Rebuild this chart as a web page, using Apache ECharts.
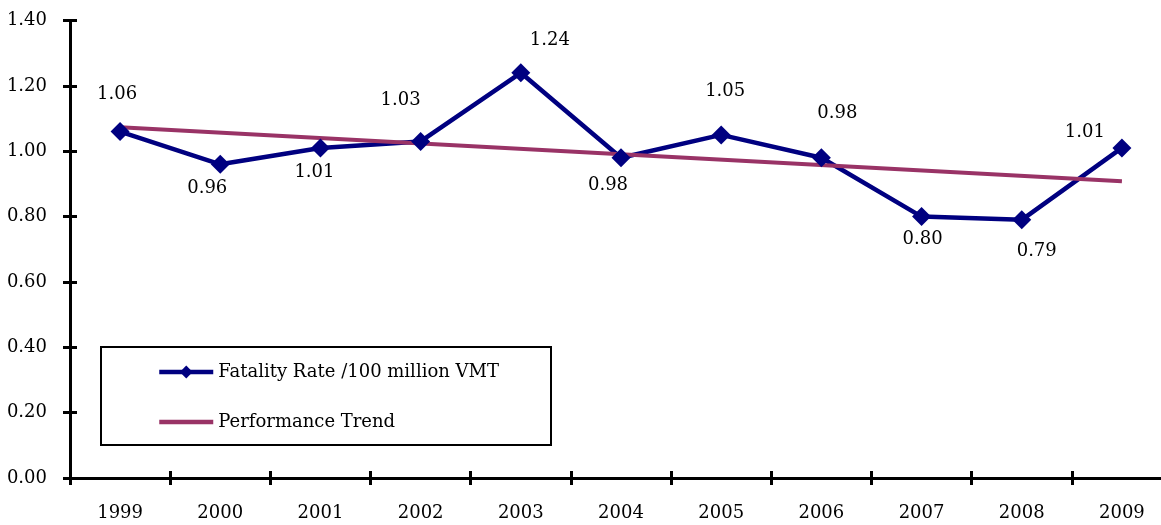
<!DOCTYPE html>
<html>
<head>
<meta charset="utf-8">
<script src="https://cdn.jsdelivr.net/npm/echarts@6/dist/echarts.min.js"></script>
<style>
  html, body { margin: 0; padding: 0; background: #fff; }
  #main { width: 1161px; height: 525px; }
</style>
</head>
<body>
<div id="main"></div>
<script>
const years = ['1999', '2000', '2001', '2002', '2003', '2004', '2005', '2006', '2007', '2008', '2009'];
const fatalityRate = [1.06, 0.96, 1.01, 1.03, 1.24, 0.98, 1.05, 0.98, 0.80, 0.79, 1.01];
// trend line only has its two ends, the rest is left open
const performanceTrend = [1.073, null, null, null, null, null, null, null, null, null, 0.908];

// where each value label sits, relative to its point
const labelOffsets = [[-3, -37], [-13, 24], [-6, 24], [-20, -41], [29, -32], [-13, 28],
  [4, -44], [16, -44], [1, 23], [15, 31], [-37, -16]];

const FONT = 'DejaVu Serif';
const chart = echarts.init(document.getElementById('main'));

const xBase = {
  type: 'category',
  data: years,
  position: 'bottom',
  boundaryGap: true,
  axisLine: { show: true, lineStyle: { color: '#000', width: 3 } },
  axisTick: { show: true, alignWithLabel: false, length: 7, lineStyle: { color: '#000', width: 3 } },
  splitLine: { show: false }
};
const yBase = {
  type: 'value',
  min: 0,
  max: 1.4,
  interval: 0.2,
  position: 'left',
  axisLine: { show: true, lineStyle: { color: '#000', width: 3 } },
  axisTick: { show: true, length: 7, lineStyle: { color: '#000', width: 3 } },
  splitLine: { show: false }
};

var option = {
  animation: false,
  backgroundColor: '#fff',
  grid: { left: 70, top: 20.5, width: 1102, bottom: 47, outerBoundsMode: 'none', containLabel: false },
  xAxis: [
    Object.assign({}, xBase, {
      axisTick: Object.assign({}, xBase.axisTick, { inside: false }),
      axisLabel: { margin: 26, color: '#000', fontFamily: FONT, fontSize: 18 }
    }),
    Object.assign({}, xBase, {
      axisTick: Object.assign({}, xBase.axisTick, { inside: true }),
      axisLabel: { show: false }
    })
  ],
  yAxis: [
    Object.assign({}, yBase, {
      axisTick: Object.assign({}, yBase.axisTick, { inside: false }),
      axisLabel: {
        margin: 23, color: '#000', fontFamily: FONT, fontSize: 18,
        formatter: v => v.toFixed(2)
      }
    }),
    Object.assign({}, yBase, {
      axisTick: Object.assign({}, yBase.axisTick, { inside: true }),
      axisLabel: { show: false }
    })
  ],
  graphic: [{
    type: 'rect',
    shape: { x: 101, y: 347, width: 450, height: 98 },
    style: { fill: '#fff', stroke: '#000', lineWidth: 2 },
    z: 50
  }],
  legend: {
    orient: 'vertical',
    left: 157,
    top: 363,
    padding: 0,
    itemWidth: 54,
    itemHeight: 16,
    itemGap: 32,
    z: 60,
    lineStyle: { width: 4.5 },
    textStyle: { color: '#000', fontFamily: FONT, fontSize: 18 },
    data: [
      'Fatality Rate /100 million VMT',
      { name: 'Performance Trend', itemStyle: { opacity: 0 } }
    ]
  },
  series: [
    {
      name: 'Fatality Rate /100 million VMT',
      type: 'line',
      data: fatalityRate.map((v, i) => ({
        value: v,
        label: { offset: labelOffsets[i] }
      })),
      symbol: 'diamond',
      symbolSize: 19,
      itemStyle: { color: '#000080' },
      lineStyle: { color: '#000080', width: 4.5 },
      label: {
        show: true,
        position: 'inside',
        color: '#000',
        fontFamily: FONT,
        fontSize: 18,
        formatter: p => p.value.toFixed(2)
      }
    },
    {
      name: 'Performance Trend',
      type: 'line',
      data: performanceTrend,
      connectNulls: true,
      symbol: 'none',
      itemStyle: { color: '#993366' },
      lineStyle: { color: '#993366', width: 4 }
    }
  ]
};

chart.setOption(option);
</script>
</body>
</html>
